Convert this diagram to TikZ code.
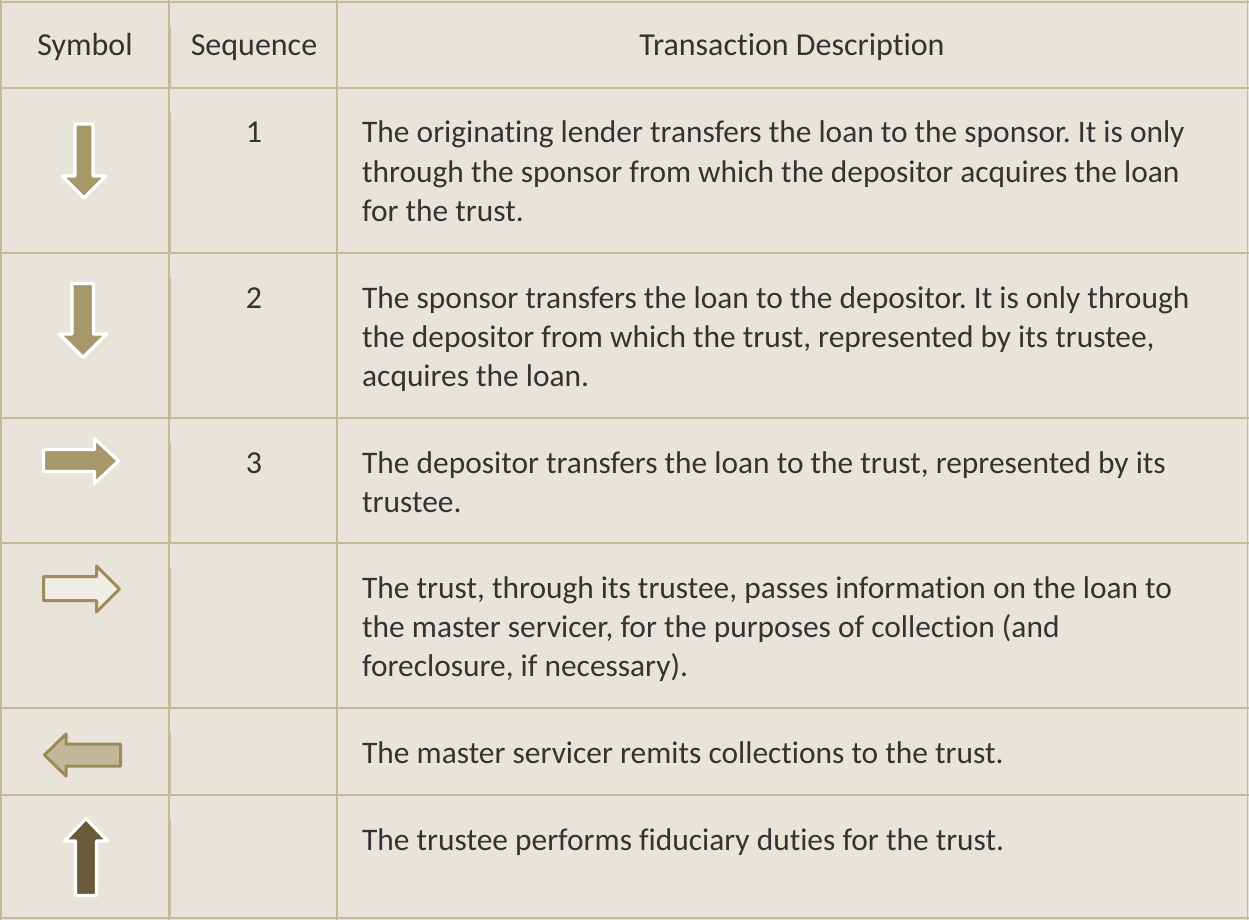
\documentclass[tikz,border=0pt]{standalone}
\usepackage{fontspec}
\setmainfont{Carlito}[Ligatures={NoCommon}]
\frenchspacing
\definecolor{bgc}{HTML}{E8E4DA}
\definecolor{rule}{HTML}{C4B998}
\definecolor{txt}{HTML}{333333}
\definecolor{afill}{HTML}{A89769}
\definecolor{adark}{HTML}{6B5B3B}
\definecolor{hfill}{HTML}{F1EEE7}
\definecolor{hstroke}{HTML}{A08D5B}
\definecolor{lfill}{HTML}{C2B799}
\definecolor{lstroke}{HTML}{9D8A59}
\tikzset{
  gridline/.style={draw=rule, line width=1.2pt},
  thickline/.style={draw=rule, line width=2.4pt},
  celltext/.style={anchor=base west, inner sep=0pt, align=left, text=txt, font=\fontsize{31.4}{39}\selectfont},
  headtext/.style={anchor=base, inner sep=0pt, text=txt, font=\fontsize{32}{39}\selectfont},
  solidarrow/.style={fill=afill, draw=white, line width=3.2pt, line join=round},
  darkarrow/.style={fill=adark, draw=white, line width=3.2pt, line join=round},
  hollowarrow/.style={fill=hfill, draw=hstroke, line width=3pt, line join=round},
  lightarrow/.style={fill=lfill, draw=lstroke, line width=3pt, line join=round}
}
\begin{document}
\begin{tikzpicture}[x=1pt,y=-1pt]
\fill[bgc] (0,0) rectangle (1249,920);
\useasboundingbox (0,0) rectangle (1249,920);
% horizontal rules
\foreach \yy in {2,88,253,418,543,708,795,918}
  \draw[gridline] (0,\yy) -- (1249,\yy);
% vertical rules
\draw[gridline] (1,0) -- (1,920);
\draw[gridline] (1247.5,0) -- (1247.5,920);
\draw[gridline] (169,0) -- (169,920);
\draw[thickline] (337,0) -- (337,920);
\foreach \ya/\yb in {27/88,113/253,278/418,443/543,568/708,733/795,820/918}
  \draw[thickline] (170,\ya) -- (170,\yb);
% header
\node[headtext] (hsym) at (85,56) {Symbol};
\node[headtext] (hseq) at (254,56) {Sequence};
\node[headtext] (hdesc) at (792,56) {Transaction Description};
% sequence numbers
\node[headtext] (s1) at (254,143) {1};
\node[headtext] (s2) at (254,308) {2};
\node[headtext] (s3) at (254,473) {3};
% descriptions (anchor = baseline of last line)
\node[celltext] (d1) at (362,221) {The originating lender transfers the loan to the sponsor. It is only\\through the sponsor from which the depositor acquires the loan\\for the trust.};
\node[celltext] (d2) at (362,386) {The sponsor transfers the loan to the depositor. It is only through\\the depositor from which the trust, represented by its trustee,\\acquires the loan.};
\node[celltext] (d3) at (362,512) {The depositor transfers the loan to the trust, represented by its\\trustee.};
\node[celltext] (d4) at (362,676) {The trust, through its trustee, passes information on the loan to\\the master servicer, for the purposes of collection (and\\foreclosure, if necessary).};
\node[celltext] (d5) at (362,763) {The master servicer remits collections to the trust.};
\node[celltext] (d6) at (362,850) {The trustee performs fiduciary duties for the trust.};
% symbols
\draw[solidarrow] (75,124) -- (93,124) -- (93,176) -- (106,176) -- (84,198) -- (62,176) -- (75,176) -- cycle;
\draw[solidarrow] (72,283.5) -- (93.5,283.5) -- (93.5,334) -- (106.5,334) -- (83,357.5) -- (59.5,334) -- (72,334) -- cycle;
\draw[solidarrow] (43.5,449.5) -- (94.5,449.5) -- (94.5,438.5) -- (118.5,461) -- (94.5,483.5) -- (94.5,471.5) -- (43.5,471.5) -- cycle;
\draw[hollowarrow] (43.5,576.5) -- (96.5,576.5) -- (96.5,566) -- (119.5,589) -- (96.5,612) -- (96.5,600.5) -- (43.5,600.5) -- cycle;
\draw[lightarrow] (44.5,755) -- (66,734) -- (66,744) -- (120.5,744) -- (120.5,766) -- (66,766) -- (66,776) -- cycle;
\draw[darkarrow] (86,818.5) -- (107.5,841) -- (96.5,841) -- (96.5,895.5) -- (75.5,895.5) -- (75.5,841) -- (64.5,841) -- cycle;
\end{tikzpicture}
\end{document}
